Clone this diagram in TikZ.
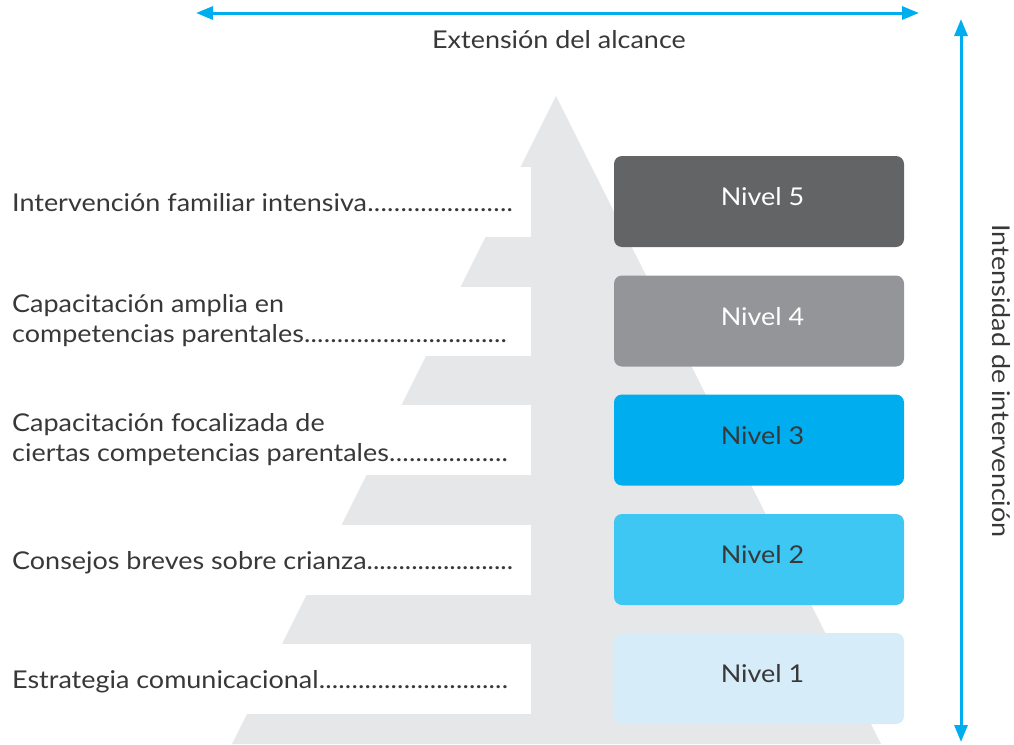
\documentclass[tikz,border=0pt]{standalone}
\usepackage{fontspec}
\setmainfont{Lato}[FakeStretch=1.1]
\usetikzlibrary{arrows.meta}
\definecolor{pyr}{HTML}{E6E7E8}
\definecolor{cfive}{HTML}{636466}
\definecolor{cfour}{HTML}{939598}
\definecolor{cthree}{HTML}{00AEEF}
\definecolor{ctwo}{HTML}{3FC7F4}
\definecolor{cone}{HTML}{D6ECF9}
\definecolor{ink}{HTML}{383838}
\definecolor{arrowblue}{HTML}{00AEEF}
\newcommand{\lfont}{\fontsize{24.5}{30}\selectfont}
\newcommand{\dotted}[2]{\makebox[#1][l]{#2\xleaders\hbox{.}\hfill}}
\tikzset{
  lvl/.style={rounded corners=8pt, minimum width=290pt, minimum height=91pt, inner sep=0pt, text depth=10pt, font=\lfont, execute at begin node={\hspace*{7pt}}},
  lab/.style={anchor=base west, inner sep=0pt, font=\lfont, text=ink},
  arr/.style={draw=arrowblue, line width=3pt, {Triangle[length=17pt,width=13pt]}-{Triangle[length=17pt,width=13pt]}}
}
\begin{document}
\begin{tikzpicture}[x=1pt,y=-1pt]
\useasboundingbox (0,0) rectangle (1014,744);
% pyramid
\fill[pyr] (556,96) -- (881,744) -- (232,744) -- cycle;
\foreach \a/\b in {167/237,287/356,405/475,525/595,644/714}
  \fill[white] (0,\a) rectangle (531,\b);
% level boxes
\node[lvl, fill=cfive, text=white] (n5) at (759,201.5) {Nivel 5};
\node[lvl, fill=cfour, text=white] (n4) at (759,321) {Nivel 4};
\node[lvl, fill=cthree, text=ink] (n3) at (759,440) {Nivel 3};
\node[lvl, fill=ctwo, text=ink] (n2) at (759,559.5) {Nivel 2};
\node[lvl, fill=cone, text=ink] (n1) at (759,678.5) {Nivel 1};
% labels
\node[lab] (t5) at (12,211) {\dotted{501pt}{Intervención familiar intensiva}};
\node[lab] (t4) at (12,312) {\begin{tabular}[t]{@{}l@{}}Capacitación amplia en\\\dotted{495pt}{competencias parentales}\end{tabular}};
\node[lab] (t3) at (12,431) {\begin{tabular}[t]{@{}l@{}}Capacitación focalizada de\\\dotted{496pt}{ciertas competencias parentales}\end{tabular}};
\node[lab] (t2) at (12,569) {\dotted{501pt}{Consejos breves sobre crianza}};
\node[lab] (t1) at (12,688) {\dotted{496pt}{Estrategia comunicacional}};
% axes
\coordinate (hl) at (196,13);
\coordinate (hr) at (919,13);
\draw[arr] (hl) -- (hr);
\coordinate (vt) at (961,19);
\coordinate (vb) at (961,742);
\draw[arr] (vt) -- (vb);
\node[lab, anchor=base] (ext) at (559,48) {Extensión del alcance};
\node[lab, anchor=base, rotate=-90] (int) at (992,381) {Intensidad de intervención};
\end{tikzpicture}
\end{document}
